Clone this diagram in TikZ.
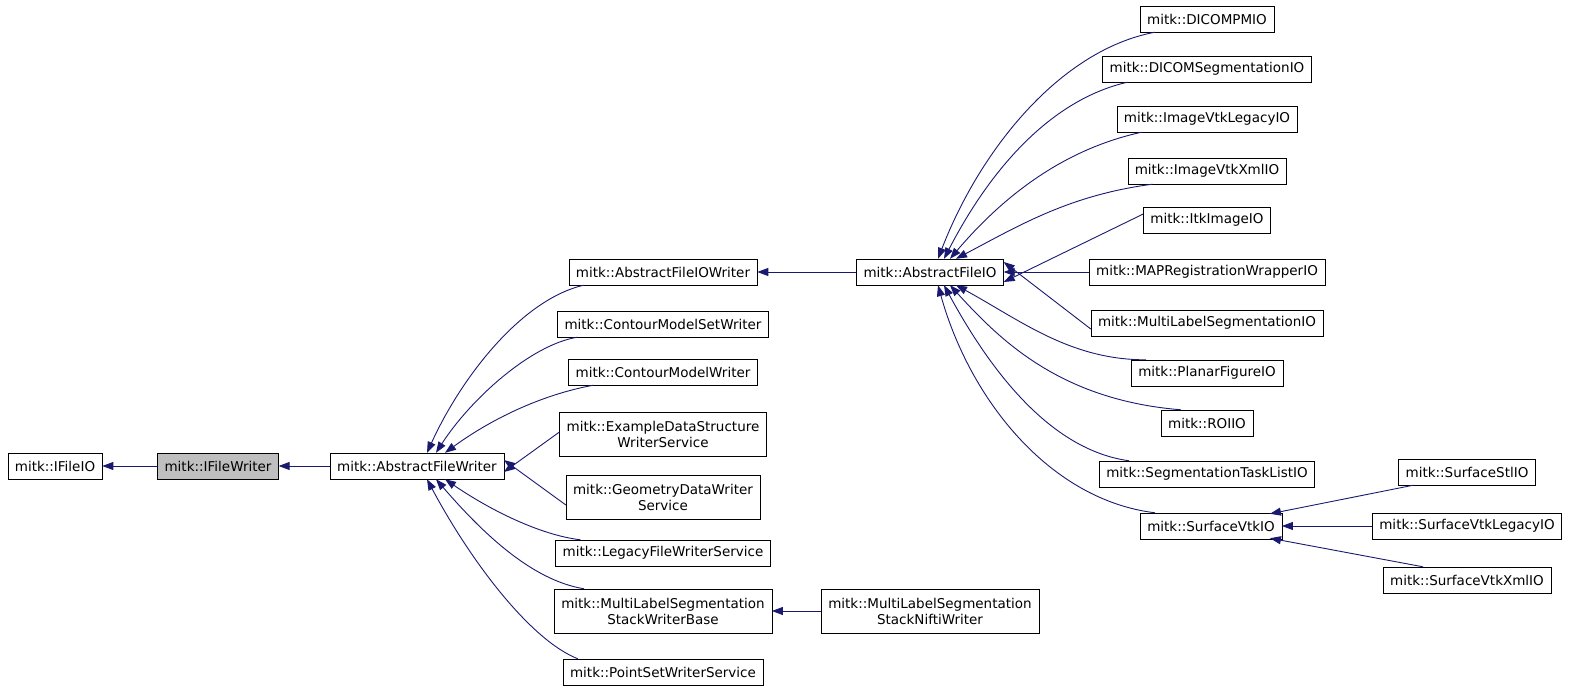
\documentclass[tikz,border=0pt]{standalone}
\usepackage{fontspec}
\setmainfont{DejaVu Sans}
\usetikzlibrary{arrows.meta}
\definecolor{navy}{RGB}{25,25,112}
\begin{document}
\begin{tikzpicture}[x=1pt,y=-1pt,
  box/.style={draw=black,fill=white,inner xsep=7pt,inner ysep=2pt,minimum height=26pt,font=\fontsize{13.5}{16}\selectfont,align=center},
  two/.style={minimum height=44pt},
  e/.style={draw=navy,line width=0.9pt,{Triangle[length=11pt,width=8pt,fill=navy]}-}]
\useasboundingbox (0,0) rectangle (1569,692);
% nodes
\node[box] (ifio) at (55,466) {mitk::IFileIO};
\node[box,fill={rgb,255:red,191;green,191;blue,191}] (ifw) at (218,466) {mitk::IFileWriter};
\node[box] (afw) at (417,466) {mitk::AbstractFileWriter};
\node[box] (afiow) at (663,272) {mitk::AbstractFileIOWriter};
\node[box] (cmsw) at (663,324) {mitk::ContourModelSetWriter};
\node[box] (cmw) at (663,372) {mitk::ContourModelWriter};
\node[box,two] (eds) at (663,434) {mitk::ExampleDataStructure\\WriterService};
\node[box,two] (gdw) at (663,497) {mitk::GeometryDataWriter\\Service};
\node[box] (lfw) at (663,553) {mitk::LegacyFileWriterService};
\node[box,two] (mlsb) at (663,611) {mitk::MultiLabelSegmentation\\StackWriterBase};
\node[box] (psw) at (663,672) {mitk::PointSetWriterService};
\node[box,two] (mlsn) at (930,611) {mitk::MultiLabelSegmentation\\StackNiftiWriter};
\node[box] (afio) at (930,272) {mitk::AbstractFileIO};
\node[box] (dpm) at (1207,19) {mitk::DICOMPMIO};
\node[box] (dseg) at (1207,69) {mitk::DICOMSegmentationIO};
\node[box] (ivl) at (1207,119) {mitk::ImageVtkLegacyIO};
\node[box] (ivx) at (1207,171) {mitk::ImageVtkXmlIO};
\node[box] (itk) at (1207,220) {mitk::ItkImageIO};
\node[box] (map) at (1207,272) {mitk::MAPRegistrationWrapperIO};
\node[box] (mls) at (1207,323) {mitk::MultiLabelSegmentationIO};
\node[box] (pf) at (1207,373) {mitk::PlanarFigureIO};
\node[box] (roi) at (1207,423) {mitk::ROIIO};
\node[box] (stl) at (1207,474) {mitk::SegmentationTaskListIO};
\node[box] (svtk) at (1211,526) {mitk::SurfaceVtkIO};
\node[box] (sstl) at (1467,472) {mitk::SurfaceStlIO};
\node[box] (svl) at (1467,526) {mitk::SurfaceVtkLegacyIO};
\node[box] (svx) at (1467,580) {mitk::SurfaceVtkXmlIO};
% edges
\draw[e] (ifio.east) -- (ifw.west);
\draw[e] (ifw.east) -- (afw.west);
\draw[e] ([xshift=10pt]afw.north) .. controls (460,380) and (520,300) .. ([xshift=15pt]afiow.south west);
\draw[e] ([xshift=19pt]afw.north) .. controls (470,400) and (530,345) .. ([xshift=20pt]cmsw.south west);
\draw[e] ([xshift=28pt]afw.north) .. controls (490,420) and (540,395) .. ([xshift=25pt]cmw.south west);
\draw[e] ([yshift=-6pt]afw.east) -- ([yshift=2pt]eds.west);
\draw[e] ([yshift=6pt]afw.east) -- ([yshift=-8pt]gdw.west);
\draw[e] ([xshift=28pt]afw.south) .. controls (490,510) and (540,535) .. ([xshift=25pt]lfw.north west);
\draw[e] ([xshift=19pt]afw.south) .. controls (480,530) and (530,580) .. ([xshift=30pt]mlsb.north west);
\draw[e] ([xshift=10pt]afw.south) .. controls (470,560) and (530,640) .. ([xshift=15pt]psw.north west);
\draw[e] (afiow.east) -- (afio.west);
\draw[e] (mlsb.east) -- (mlsn.west);
\draw[e] ([xshift=8pt]afio.north) .. controls (980,150) and (1060,50) .. ([xshift=15pt]dpm.south west);
\draw[e] ([xshift=14pt]afio.north) .. controls (990,170) and (1050,100) .. ([xshift=25pt]dseg.south west);
\draw[e] ([xshift=20pt]afio.north) .. controls (1000,200) and (1060,150) .. ([xshift=25pt]ivl.south west);
\draw[e] ([xshift=26pt]afio.north) .. controls (1020,225) and (1070,195) .. ([xshift=25pt]ivx.south west);
\draw[e] ([yshift=-10pt]afio.east) -- ([yshift=6pt]itk.west);
\draw[e] (afio.east) -- (map.west);
\draw[e] ([yshift=10pt]afio.east) -- ([yshift=-6pt]mls.west);
\draw[e] ([xshift=26pt]afio.south) .. controls (1020,320) and (1070,360) .. ([xshift=15pt]pf.north west);
\draw[e] ([xshift=20pt]afio.south) .. controls (1000,340) and (1060,400) .. ([xshift=20pt]roi.north west);
\draw[e] ([xshift=14pt]afio.south) .. controls (990,370) and (1050,450) .. ([xshift=30pt]stl.north west);
\draw[e] ([xshift=8pt]afio.south) .. controls (970,400) and (1050,500) .. ([xshift=15pt]svtk.north west);
\draw[e] ([xshift=-12pt,yshift=-1pt]svtk.north east) -- ([xshift=15pt]sstl.south west);
\draw[e] (svtk.east) -- (svl.west);
\draw[e] ([xshift=-12pt,yshift=1pt]svtk.south east) -- ([xshift=40pt]svx.north west);
\end{tikzpicture}
\end{document}
